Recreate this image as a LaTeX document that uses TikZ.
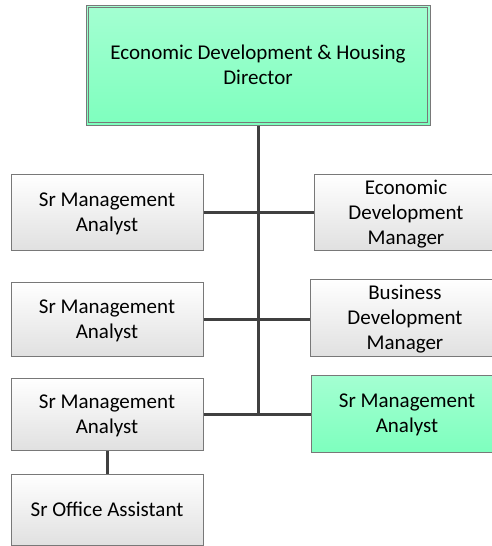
\documentclass[tikz,border=0pt]{standalone}
\usepackage{fontspec}
\setmainfont{Carlito}
\definecolor{gtop}{RGB}{164,255,210}
\definecolor{gbot}{RGB}{126,255,190}
\definecolor{boxline}{RGB}{120,120,120}
\definecolor{conn}{RGB}{64,64,64}
\tikzset{
  base/.style={draw=boxline, line width=1pt, inner sep=0pt, align=center,
    text depth=0pt, font=\fontsize{21}{25}\selectfont},
  graybox/.style={base, top color=white, bottom color=black!12},
  greenbox/.style={base, top color=gtop, bottom color=gbot},
  link/.style={draw=conn, line width=3pt}
}
\begin{document}
\begin{tikzpicture}[x=1pt,y=-1pt]
\useasboundingbox (0,0) rectangle (491,546);
\node[greenbox, minimum width=344pt, minimum height=120pt] (dir) at (258,65)
  {Economic Development \& Housing\\Director};
\draw[boxline, line width=1pt] ([shift={(3pt,-3pt)}]dir.north west) rectangle ([shift={(-3pt,3pt)}]dir.south east);

\node[graybox, minimum width=192pt, minimum height=76pt] (l1) at (107,212) {Sr Management\\Analyst};
\node[graybox, minimum width=192pt, minimum height=74pt] (l2) at (107,319) {Sr Management\\Analyst};
\node[graybox, minimum width=192pt, minimum height=72pt] (l3) at (107,414) {Sr Management\\Analyst};
\node[graybox, minimum width=192pt, minimum height=71pt] (l4) at (107,509.5) {Sr Office Assistant};

\node[graybox, minimum width=184pt, minimum height=76pt] (r1) at (406,212) {Economic\\Development\\Manager};
\node[graybox, minimum width=190pt, minimum height=77pt] (r2) at (405,317.5) {Business\\Development\\Manager};
\node[greenbox, minimum width=192pt, minimum height=77pt] (r3) at (407,413.5) {Sr Management\\Analyst};

\coordinate (tb) at (dir.south |- l3.east);
\draw[link] (dir.south) -- ([yshift=1.5pt]tb);
\draw[link] (l1.east) -- (l1.east -| r1.west);
\draw[link] (l2.east) -- (l2.east -| r2.west);
\draw[link] (l3.east) -- (l3.east -| r3.west);
\draw[link] (l3.south) -- (l4.north);
\end{tikzpicture}
\end{document}
